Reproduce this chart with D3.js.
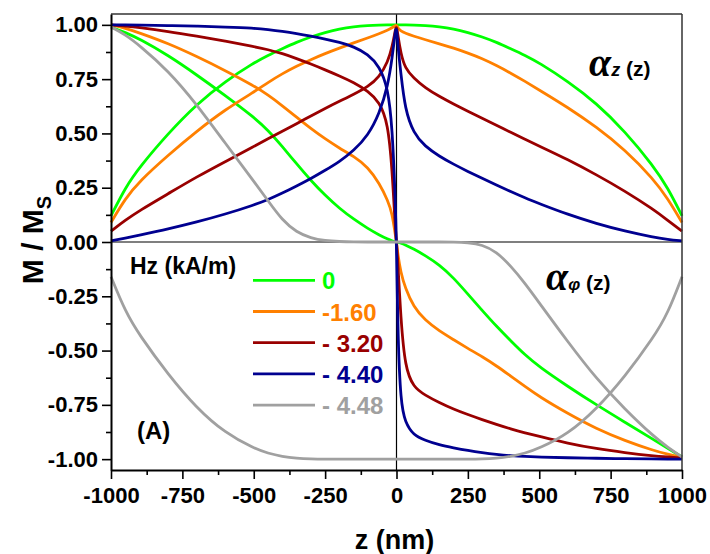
<!DOCTYPE html>
<html><head><meta charset="utf-8">
<script src="https://cdn.jsdelivr.net/npm/d3@7"></script>
<style>
body{margin:0;background:#fff}
svg{display:block}
text{font-family:Arial,"Liberation Sans",sans-serif;font-weight:bold}
</style>
</head><body>
<svg id="chart" width="710" height="554"></svg>
<script>
// ---- data ----
const zGrid = [-1000,-950,-900,-800,-700,-600,-500,-450,-400,-350,-300,-250,-200,-150,-100,-60,-30,-15,-5,0,5,15,30,60,100,150,200,250,300,350,400,450,500,600,700,800,900,950,1000];

const hzLabels = ["0", "-1.60", "- 3.20", "- 4.40", "- 4.48"];
const seriesColors = ["#00ff00", "#ff8000", "#990000", "#000090", "#a0a0a0"];

// alpha_z(z) for each Hz
const alphaZ_0 =    [0.12,0.25,0.345,0.5,0.635,0.74,0.825,0.86,0.89,0.92,0.945,0.965,0.982,0.992,0.997,0.999,1,1,1,1,1,1,1,0.999,0.997,0.992,0.982,0.965,0.945,0.92,0.89,0.86,0.825,0.74,0.64,0.51,0.35,0.25,0.12];
const alphaZ_160 =  [0.09,0.2,0.28,0.40,0.51,0.61,0.69,0.735,0.775,0.81,0.84,0.868,0.893,0.917,0.94,0.96,0.976,0.987,0.996,1,0.985,0.972,0.962,0.948,0.932,0.913,0.893,0.87,0.845,0.813,0.778,0.74,0.7,0.62,0.53,0.425,0.29,0.2,0.09];
const alphaZ_320 =  [0.05,0.1,0.145,0.222,0.30,0.37,0.44,0.475,0.51,0.545,0.58,0.615,0.648,0.68,0.715,0.76,0.83,0.9,0.97,1,0.95,0.87,0.80,0.755,0.71,0.67,0.635,0.602,0.57,0.538,0.505,0.473,0.442,0.38,0.31,0.235,0.15,0.1,0.05];
const alphaZ_440 =  [0.005,0.018,0.032,0.06,0.092,0.128,0.17,0.195,0.225,0.258,0.292,0.33,0.37,0.42,0.49,0.59,0.72,0.85,0.96,1,0.9,0.78,0.61,0.5,0.44,0.395,0.358,0.325,0.293,0.262,0.232,0.203,0.177,0.127,0.085,0.05,0.022,0.012,0.005];
const alphaZ_448 =  [-0.16,-0.32,-0.43,-0.61,-0.765,-0.88,-0.95,-0.973,-0.988,-0.996,-0.999,-1,-1,-1,-1,-1,-1,-1,-1,-1,-1,-1,-1,-1,-1,-1,-1,-1,-0.999,-0.996,-0.988,-0.973,-0.95,-0.885,-0.77,-0.62,-0.44,-0.33,-0.16];

// alpha_phi(z) for each Hz
const alphaPhi_0 =   [0.99,0.965,0.935,0.86,0.77,0.675,0.575,0.515,0.44,0.36,0.283,0.215,0.155,0.105,0.062,0.032,0.013,0.005,0.001,0,-0.001,-0.005,-0.013,-0.032,-0.062,-0.105,-0.165,-0.24,-0.315,-0.388,-0.455,-0.52,-0.575,-0.665,-0.75,-0.83,-0.91,-0.95,-0.99];
const alphaPhi_160 = [1.0,0.985,0.963,0.915,0.855,0.79,0.72,0.677,0.628,0.575,0.522,0.475,0.432,0.395,0.345,0.27,0.19,0.13,0.04,0,-0.06,-0.14,-0.21,-0.3,-0.36,-0.41,-0.45,-0.49,-0.528,-0.57,-0.618,-0.665,-0.712,-0.79,-0.86,-0.915,-0.96,-0.978,-0.99];
const alphaPhi_320 = [1.0,0.995,0.988,0.97,0.948,0.925,0.9,0.886,0.868,0.845,0.82,0.793,0.765,0.735,0.695,0.645,0.55,0.33,0.08,0,-0.1,-0.35,-0.58,-0.67,-0.705,-0.74,-0.77,-0.795,-0.818,-0.84,-0.861,-0.879,-0.895,-0.927,-0.952,-0.97,-0.985,-0.99,-0.995];
const alphaPhi_440 = [1.0,1.0,0.999,0.997,0.994,0.99,0.985,0.978,0.97,0.96,0.948,0.935,0.92,0.9,0.865,0.81,0.71,0.53,0.22,0,-0.45,-0.74,-0.83,-0.89,-0.913,-0.935,-0.948,-0.96,-0.97,-0.978,-0.984,-0.988,-0.99,-0.994,-0.996,-0.998,-0.999,-1.0,-1.0];
const alphaPhi_448 = [0.99,0.955,0.905,0.79,0.635,0.455,0.28,0.19,0.10,0.045,0.018,0.006,0.002,0,0,0,0,0,0,0,0,0,0,0,0,0,0,-0.003,-0.012,-0.045,-0.11,-0.19,-0.28,-0.46,-0.63,-0.77,-0.895,-0.945,-0.99];

const xTicks = [-1000,-750,-500,-250,0,250,500,750,1000];
const xMinor = [-875,-625,-375,-125,125,375,625,875];
const yTicks = [1,0.75,0.5,0.25,0,-0.25,-0.5,-0.75,-1];
const yMinor = [0.875,0.625,0.375,0.125,-0.125,-0.375,-0.625,-0.875];

const seriesZ = [alphaZ_0, alphaZ_160, alphaZ_320, alphaZ_440, alphaZ_448];
const seriesPhi = [alphaPhi_0, alphaPhi_160, alphaPhi_320, alphaPhi_440, alphaPhi_448];

// ---- drawing ----
const svg = d3.select("#chart");
const L = 111, R = 682, T = 14, B = 470;
const x = d3.scaleLinear().domain([-1000, 1000]).range([L, R]);
const y = d3.scaleLinear().domain([-1.05, 1.05]).range([B, T]);
const fmt = v => d3.format(".2f")(v).replace("\u2212", "-");

// zero lines
svg.append("line").attr("x1", L).attr("x2", R).attr("y1", y(0)).attr("y2", y(0)).attr("stroke", "#000").attr("stroke-width", 1.2);
svg.append("line").attr("x1", x(0)).attr("x2", x(0)).attr("y1", T).attr("y2", B).attr("stroke", "#000").attr("stroke-width", 1.2);

// curves
const line = d3.line().x(d => x(d[0])).y(d => y(d[1])).curve(d3.curveBasis);
const g = svg.append("g").attr("fill", "none").attr("stroke-width", 2.8).attr("stroke-linejoin", "round");
for (let i = 0; i < 5; i++) {
  g.append("path").datum(zGrid.map((z, k) => [z, seriesZ[i][k]])).attr("d", line).attr("stroke", seriesColors[i]);
  g.append("path").datum(zGrid.map((z, k) => [z, seriesPhi[i][k]])).attr("d", line).attr("stroke", seriesColors[i]);
}

// frame top/right
svg.append("line").attr("x1", L).attr("x2", R).attr("y1", T).attr("y2", T).attr("stroke", "#333").attr("stroke-width", 1.5);
svg.append("line").attr("x1", R).attr("x2", R).attr("y1", T).attr("y2", B).attr("stroke", "#333").attr("stroke-width", 1.5);

// axes
const axStyle = sel => {
  sel.select(".domain").attr("stroke-width", 2);
  sel.selectAll(".tick line").attr("stroke-width", 1.6);
  sel.selectAll("text").style("font-size", "22px").style("font-weight", "bold").attr("fill", "#000");
};
svg.append("g").attr("transform", `translate(${L},0)`)
  .call(d3.axisLeft(y).tickValues(yMinor).tickSize(5).tickFormat("").tickSizeOuter(0))
  .call(s => { s.select(".domain").remove(); s.selectAll("line").attr("stroke-width", 1.6); });
svg.append("g").attr("transform", `translate(0,${B})`)
  .call(d3.axisBottom(x).tickValues(xMinor).tickSize(5).tickFormat("").tickSizeOuter(0))
  .call(s => { s.select(".domain").remove(); s.selectAll("line").attr("stroke-width", 1.6); });
svg.append("g").attr("transform", `translate(${L},0)`)
  .call(d3.axisLeft(y).tickValues(yTicks).tickSize(9).tickPadding(4).tickFormat(fmt).tickSizeOuter(0))
  .call(axStyle);
svg.append("g").attr("transform", `translate(0,${B})`)
  .call(d3.axisBottom(x).tickValues(xTicks).tickSize(9).tickPadding(8).tickFormat(d => String(d)).tickSizeOuter(0))
  .call(axStyle);

// axis titles
svg.append("text").attr("x", x(0) - 2).attr("y", 549).attr("text-anchor", "middle").style("font-size", "27px").text("z (nm)");
const yt = svg.append("text").attr("transform", `translate(43,${y(0) - 2}) rotate(-90)`).attr("text-anchor", "middle").style("font-size", "30px");
yt.append("tspan").text("M / M");
yt.append("tspan").attr("dy", 8).style("font-size", "20px").text("S");

// legend
svg.append("text").attr("x", 130).attr("y", 274).style("font-size", "23px").text("Hz (kA/m)");
const legY0 = 280.3, legDy = 31.2;
hzLabels.forEach((lab, i) => {
  const yy = legY0 + i * legDy;
  svg.append("line").attr("x1", 253).attr("x2", 315).attr("y1", yy).attr("y2", yy).attr("stroke", seriesColors[i]).attr("stroke-width", 2.8);
  svg.append("text").attr("x", 322).attr("y", yy + 9).style("font-size", "24px").attr("fill", seriesColors[i]).text(lab);
});

svg.append("text").attr("x", 137).attr("y", 439).style("font-size", "24px").text("(A)");

// annotations
const a1 = svg.append("text").attr("x", 589).attr("y", 76);
a1.append("tspan").style("font-family", "'Liberation Serif','DejaVu Serif',serif").style("font-style", "italic").style("font-weight", "bold").style("font-size", "40px").text("\u03b1");
a1.append("tspan").style("font-style", "italic").style("font-size", "18px").text("z");
a1.append("tspan").style("font-size", "21px").text(" (z)");

const a2 = svg.append("text").attr("x", 546).attr("y", 290);
a2.append("tspan").style("font-family", "'Liberation Serif','DejaVu Serif',serif").style("font-style", "italic").style("font-weight", "bold").style("font-size", "40px").text("\u03b1");
a2.append("tspan").style("font-style", "italic").style("font-size", "17px").text("\u03c6");
a2.append("tspan").style("font-size", "21px").text(" (z)");
</script>
</body></html>
